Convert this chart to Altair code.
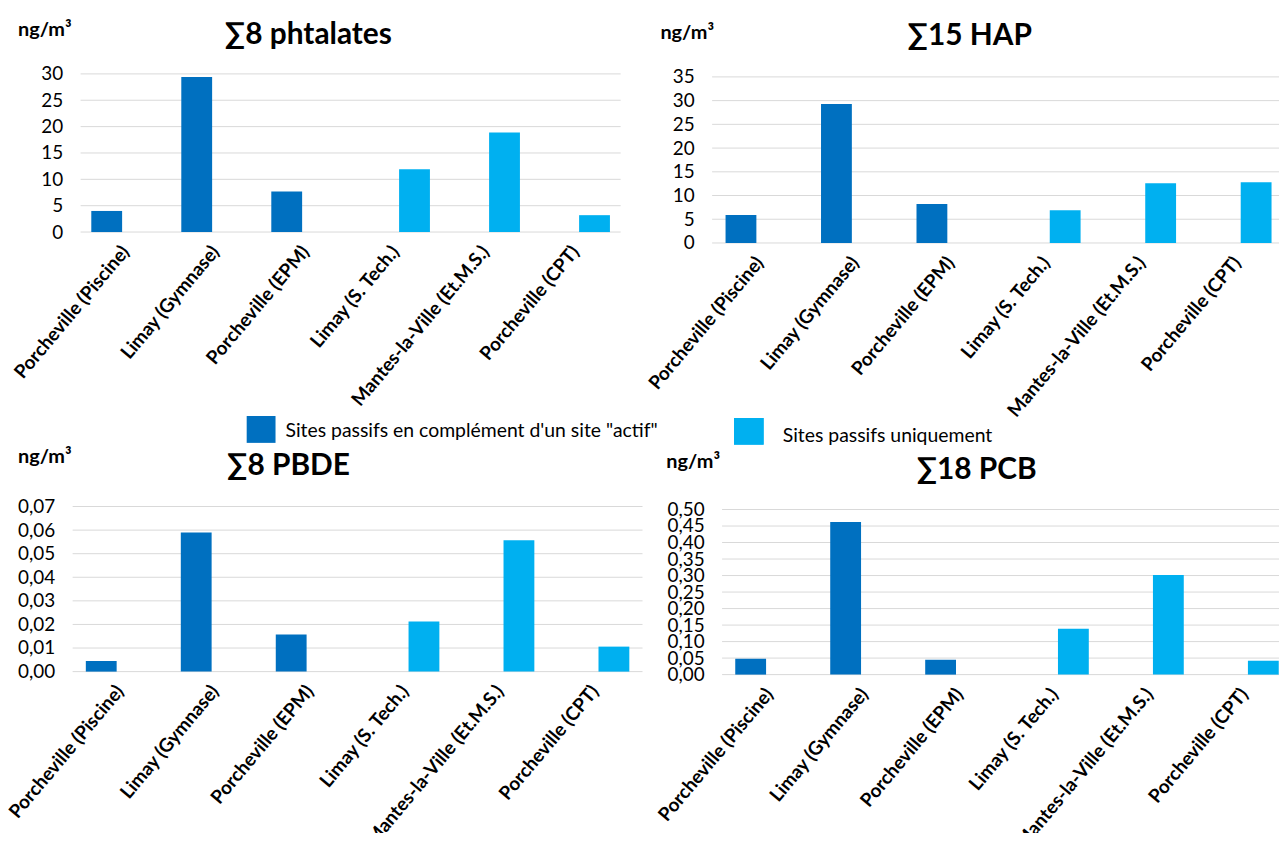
import altair as alt
import pandas as pd

# ---------------- data ----------------
sites = [
    "Porcheville (Piscine)",
    "Limay (Gymnase)",
    "Porcheville (EPM)",
    "Limay (S. Tech.)",
    "Mantes-la-Ville (Et.M.S.)",
    "Porcheville (CPT)",
]
series_names = [
    'Sites passifs en complément d\'un site "actif"',
    "Sites passifs uniquement",
]
site_series = [0, 0, 0, 1, 1, 1]

phtalates = [4.0, 29.4, 7.7, 11.9, 18.9, 3.2]
hap = [5.9, 29.3, 8.2, 6.9, 12.6, 12.8]
pbde = [0.0045, 0.059, 0.0157, 0.0212, 0.0557, 0.0106]
pcb = [0.048, 0.462, 0.045, 0.139, 0.302, 0.042]

titles = ["∑8 phtalates", "∑15 HAP", "∑8 PBDE", "∑18 PCB"]
unit = "ng/m³"

ticks_ph = [0, 5, 10, 15, 20, 25, 30]
ticks_hap = [0, 5, 10, 15, 20, 25, 30, 35]
ticks_pbde = [0, 0.01, 0.02, 0.03, 0.04, 0.05, 0.06, 0.07]
ticks_pcb = [0, 0.05, 0.10, 0.15, 0.20, 0.25, 0.30, 0.35, 0.40, 0.45, 0.50]

# ---------------- style / layout ----------------
DARK = "#0070C0"
LIGHT = "#00B0F0"
GRID = "#D9D9D9"
FONT = "Lato"
OX, OY = 8, 8          # page margin (chart origin)
W, H = 1278, 825

cscale = alt.Scale(domain=series_names, range=[DARK, LIGHT])


def panel(values, ticks, labexpr, x0, x1, y0, y1, title, tx, ty, ux, uy):
    df = pd.DataFrame({
        "site": sites,
        "series": [series_names[i] for i in site_series],
        "value": values,
    })
    xs = alt.Scale(domain=sites, range=[x0 - OX, x1 - OX], paddingInner=0, paddingOuter=0)
    ys = alt.Scale(domain=[ticks[0], ticks[-1]], range=[y1 - OY, y0 - OY], nice=False, zero=True)
    xaxis = alt.Axis(
        orient="bottom", offset=(y1 - OY) - H, labelAngle=-50, labelAlign="right",
        labelBaseline="middle", labelPadding=16, labelFont=FONT, labelFontSize=19,
        labelFontWeight="bold", labelColor="#000000", labelLimit=400, labelOverlap=False,
        domain=False, ticks=False, tickSize=0, grid=False, title=None,
    )
    yaxis = alt.Axis(
        orient="left", offset=-(x0 - OX), values=ticks, labelExpr=labexpr,
        labelFont=FONT, labelFontSize=19, labelColor="#000000", labelPadding=18,
        labelOverlap=False, labelFlush=False, domain=False, ticks=False, tickSize=0,
        grid=False, title=None,
    )
    grid = alt.Chart(pd.DataFrame({"tick": ticks})).mark_rule(color=GRID, strokeWidth=1).encode(
        y=alt.Y("tick:Q", scale=ys, axis=yaxis),
        x=alt.value(x0 - OX),
        x2=alt.value(x1 - OX),
    )
    layers = [grid]
    for k, off in enumerate([-19, 19]):
        b = (
            alt.Chart(df)
            .transform_filter(alt.datum.series == series_names[k])
            .mark_bar(width=31, xOffset=off)
            .encode(
                x=alt.X("site:N", scale=xs, axis=xaxis),
                y=alt.Y("value:Q", scale=ys, axis=yaxis),
                color=alt.Color("series:N", scale=cscale, legend=None),
            )
        )
        layers.append(b)
    t = alt.Chart(pd.DataFrame({"t": [title]})).mark_text(
        font=FONT, fontSize=30, fontWeight="bold", align="center", baseline="alphabetic", color="#000000"
    ).encode(x=alt.value(tx - OX), y=alt.value(ty - OY), text="t:N")
    u = alt.Chart(pd.DataFrame({"t": [unit]})).mark_text(
        font=FONT, fontSize=20, fontWeight="bold", align="left", baseline="alphabetic", color="#000000"
    ).encode(x=alt.value(ux - OX), y=alt.value(uy - OY), text="t:N")
    layers += [t, u]
    return alt.layer(*layers)


int_expr = "format(datum.value, 'd')"
dec_expr = "replace(format(datum.value, '.2f'), '.', ',')"

p1 = panel(phtalates, ticks_ph, int_expr, 81, 624, 72, 231, titles[0], 310, 42, 18, 34)
p2 = panel(hap, ticks_hap, int_expr, 716, 1292, 75, 242, titles[1], 975, 43, 664, 37)
p3 = panel(pbde, ticks_pbde, dec_expr, 73, 646, 507, 673, titles[2], 290, 475, 18, 463)
p4 = panel(pcb, ticks_pcb, dec_expr, 726, 1299, 510, 676, titles[3], 982, 479, 670, 468)

# manual legend
leg_boxes = [(248, 277, 416, 443), (738, 768, 418, 445)]
leg_text = [(287, 431), (787, 436)]
legend_layers = []
for k in range(2):
    d = pd.DataFrame({"series": [series_names[k]]})
    bx0, bx1, by0, by1 = leg_boxes[k]
    r = alt.Chart(d).mark_rect().encode(
        x=alt.value(bx0 - OX), x2=alt.value(bx1 - OX),
        y=alt.value(by0 - OY), y2=alt.value(by1 - OY),
        color=alt.Color("series:N", scale=cscale, legend=None),
    )
    lx, ly = leg_text[k]
    tt = alt.Chart(d).mark_text(
        font=FONT, fontSize=19.5, align="left", baseline="middle", color="#000000"
    ).encode(x=alt.value(lx - OX), y=alt.value(ly - OY), text="series:N")
    legend_layers += [r, tt]

chart = (
    alt.layer(p1, p2, p3, p4, *legend_layers)
    .resolve_scale(x="independent", y="independent")
    .properties(width=W, height=H, autosize=alt.AutoSizeParams(type="none"), padding=0)
    .configure_view(stroke="transparent")
)

chart.save("out.html", embed_options={"renderer": "svg", "actions": False})
